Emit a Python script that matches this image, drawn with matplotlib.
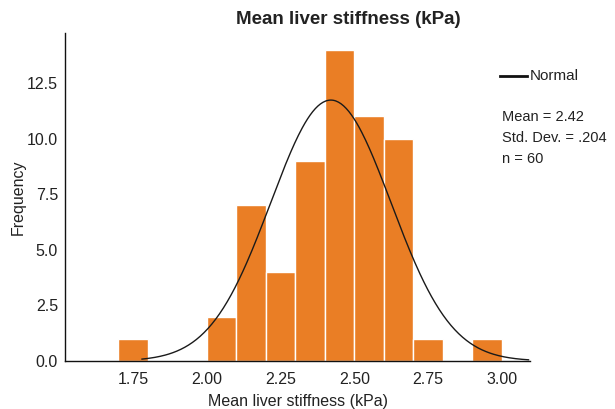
import numpy as np
import matplotlib
matplotlib.use("Agg")
import matplotlib.pyplot as plt

plt.rcParams['font.family'] = ['Liberation Sans', 'DejaVu Sans']

# Data
bin_left = [1.70, 2.00, 2.10, 2.20, 2.30, 2.40, 2.50, 2.60, 2.70, 2.90]
counts = [1, 2, 7, 4, 9, 14, 11, 10, 1, 1]
bin_width = 0.1
mean_val = 2.42
sd_val = 0.204
n_val = 60
xticks = [1.75, 2.00, 2.25, 2.50, 2.75, 3.00]
yticks = [0.0, 2.5, 5.0, 7.5, 10.0, 12.5]

fig = plt.figure(figsize=(6.15, 4.09), dpi=100)
ax = fig.add_axes([65/615, 1-361/409, (530-65)/615, (361-33)/409])

ax.bar(bin_left, counts, width=bin_width, align='edge', color='#EA7E25',
       edgecolor='white', linewidth=1.0, zorder=2)

xs = np.linspace(1.78, 3.09, 300)
ys = n_val * bin_width * np.exp(-0.5 * ((xs - mean_val) / sd_val) ** 2) / (sd_val * np.sqrt(2 * np.pi))
ax.plot(xs, ys, color='#1a1a1a', linewidth=1.0, zorder=3)

ax.set_xlim(1.519, 3.095)
ax.set_ylim(0, 14.75)
ax.set_xticks(xticks)
ax.set_xticklabels([f"{v:.2f}" for v in xticks])
ax.set_yticks(yticks)
ax.set_yticklabels([f"{v:.1f}" for v in yticks])
ax.tick_params(length=0, labelsize=11.5, colors='#222222')
ax.tick_params(axis='x', pad=8)
ax.tick_params(axis='y', pad=5)
for s in ['top', 'right']:
    ax.spines[s].set_visible(False)
for s in ['left', 'bottom']:
    ax.spines[s].set_color('#111111')
    ax.spines[s].set_linewidth(1.0)

ax.set_xlabel('Mean liver stiffness (kPa)', fontsize=11.5, color='#222222', labelpad=5)
ax.set_ylabel('Frequency', fontsize=11.5, color='#222222', labelpad=1)
fig.text(0.5*(223+474)/615, 1-19/409, 'Mean liver stiffness (kPa)', ha='center', va='center',
         fontsize=13.5, fontweight='bold', color='#222222')

# Legend
fig.lines.append(plt.Line2D([500/615, 527/615], [1-76/409, 1-76/409], transform=fig.transFigure,
                            color='#111111', linewidth=2))
fig.text(530/615, 1-76/409, 'Normal', ha='left', va='center', fontsize=11, color='#222222')
fig.text(502/615, 1-117/409, f'Mean = {mean_val:.2f}', ha='left', va='center', fontsize=10.5, color='#222222')
fig.text(502/615, 1-138/409, 'Std. Dev. = .204', ha='left', va='center', fontsize=10.5, color='#222222')
fig.text(502/615, 1-159/409, f'n = {n_val}', ha='left', va='center', fontsize=10.5, color='#222222')

fig.savefig('out.png', dpi=100)
